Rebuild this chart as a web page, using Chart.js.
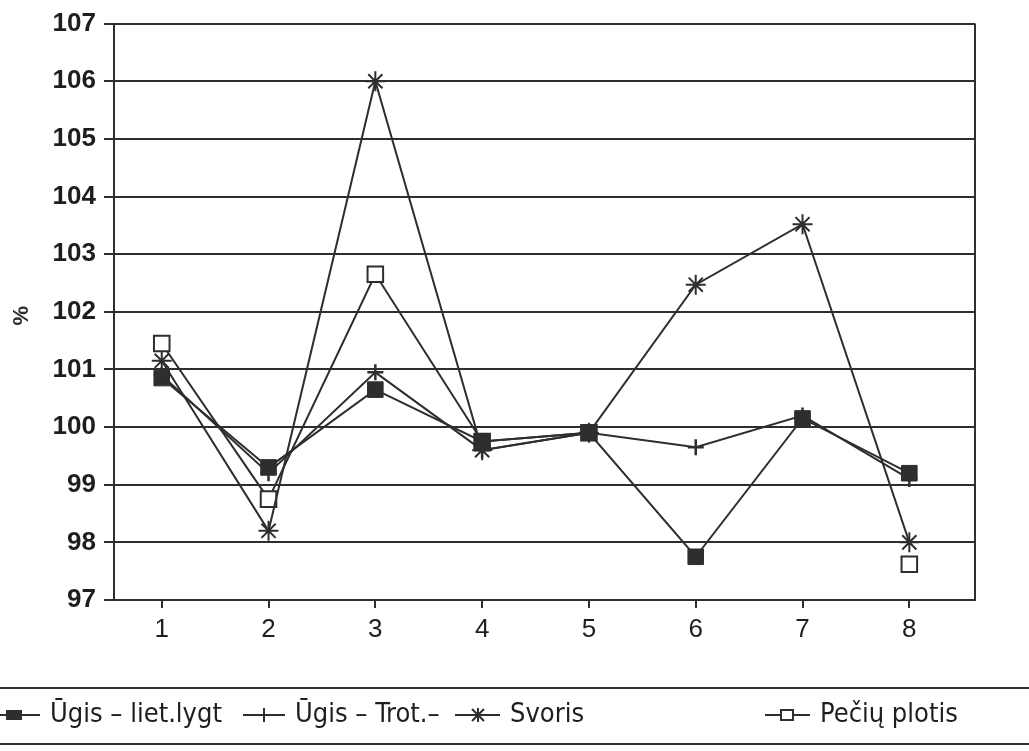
<!DOCTYPE html>
<html lang="lt">
<head>
<meta charset="utf-8">
<title>Ūgis, svoris ir pečių plotis</title>
<script src="https://cdn.jsdelivr.net/npm/chart.js@4"></script>
<style>
  html, body { margin: 0; padding: 0; background: #ffffff; }
  #wrap { width: 1029px; height: 751px; position: relative; }
  canvas { display: block; }
</style>
</head>
<body>
<div id="wrap"><canvas id="c" width="1029" height="751"></canvas></div>
<script>
// Categories on the horizontal axis
const categories = [1, 2, 3, 4, 5, 6, 7, 8];
// Vertical axis tick values (%)
const yTicks = [97, 98, 99, 100, 101, 102, 103, 104, 105, 106, 107];

// Series values, % (null = no measurement)
const ugisLietLygt = [100.85, 99.3, 100.65, 99.75, 99.9, 97.75, 100.15, 99.2];
const ugisTrot     = [100.9, 99.2, 100.95, 99.6, 99.9, 99.65, 100.2, 99.1];
const svoris       = [101.15, 98.2, 106.0, 99.6, 99.9, 102.47, 103.52, 98.0];
const peciuPlotis  = [101.45, 98.75, 102.65, 99.75, 99.9, null, null, 97.62];

const seriesNames = ['Ūgis – liet.lygt', 'Ūgis – Trot.–', 'Svoris', 'Pečių plotis'];

const INK = '#2e2e2e';
const toPoints = arr => categories.map((c, i) => ({ x: c, y: arr[i] }));

const baseLine = {
  borderColor: INK,
  borderWidth: 2,
  tension: 0,
  spanGaps: false,
  pointBorderColor: INK,
  pointHoverRadius: 0
};

// Frame on the right side, rotated "%" axis label and the legend strip below the plot
const decorations = {
  id: 'decorations',
  afterDraw(chart) {
    const ctx = chart.ctx;
    const a = chart.chartArea;
    ctx.save();
    ctx.strokeStyle = INK;
    ctx.lineWidth = 2;
    ctx.beginPath();
    ctx.moveTo(a.right, a.top);
    ctx.lineTo(a.right, a.bottom);
    ctx.stroke();

    // "%" axis label
    ctx.save();
    ctx.translate(22, chart.scales.y.getPixelForValue(102) + 4);
    ctx.rotate(-Math.PI / 2);
    ctx.fillStyle = INK;
    ctx.font = 'bold 22px "Liberation Sans", Arial, sans-serif';
    ctx.textAlign = 'center';
    ctx.textBaseline = 'middle';
    ctx.fillText('%', 0, 0);
    ctx.restore();

    // legend rules
    ctx.lineWidth = 2;
    ctx.beginPath();
    ctx.moveTo(0, 688); ctx.lineTo(1029, 688);
    ctx.moveTo(0, 744); ctx.lineTo(1029, 744);
    ctx.stroke();

    const ly = 715;
    const items = [
      { x1: 0,   x2: 40,  mx: 14,  style: 'filled', tx: 50 },
      { x1: 243, x2: 285, mx: 264, style: 'cross',  tx: 295 },
      { x1: 455, x2: 500, mx: 478, style: 'star',   tx: 510 },
      { x1: 765, x2: 810, mx: 787, style: 'open',   tx: 820 }
    ];
    ctx.font = '27px "DejaVu Sans Condensed", "Liberation Sans Narrow", "Liberation Sans", sans-serif';
    ctx.textBaseline = 'middle';
    ctx.textAlign = 'left';
    items.forEach((it, i) => {
      ctx.strokeStyle = INK;
      ctx.lineWidth = 2;
      ctx.beginPath();
      ctx.moveTo(it.x1, ly); ctx.lineTo(it.x2, ly);
      ctx.stroke();
      if (it.style === 'filled') {
        ctx.fillStyle = INK;
        ctx.fillRect(it.mx - 8, ly - 5, 16, 10);
      } else if (it.style === 'open') {
        ctx.fillStyle = '#ffffff';
        ctx.fillRect(it.mx - 6, ly - 5, 12, 10);
        ctx.strokeRect(it.mx - 6, ly - 5, 12, 10);
      } else if (it.style === 'cross') {
        ctx.beginPath();
        ctx.moveTo(it.mx, ly - 7); ctx.lineTo(it.mx, ly + 7);
        ctx.stroke();
      } else if (it.style === 'star') {
        ctx.beginPath();
        ctx.moveTo(it.mx, ly - 7); ctx.lineTo(it.mx, ly + 7);
        ctx.moveTo(it.mx - 6, ly - 6); ctx.lineTo(it.mx + 6, ly + 6);
        ctx.moveTo(it.mx - 6, ly + 6); ctx.lineTo(it.mx + 6, ly - 6);
        ctx.stroke();
      }
      ctx.fillStyle = '#1e1e1e';
      ctx.fillText(seriesNames[i], it.tx, ly);
    });
    ctx.restore();
  }
};

new Chart(document.getElementById('c'), {
  type: 'line',
  data: {
    datasets: [
      Object.assign({}, baseLine, {
        label: seriesNames[0],
        data: toPoints(ugisLietLygt),
        pointStyle: 'rect',
        pointRadius: 11,
        pointBackgroundColor: INK,
        pointBorderWidth: 1
      }),
      Object.assign({}, baseLine, {
        label: seriesNames[1],
        data: toPoints(ugisTrot),
        pointStyle: 'cross',
        pointRadius: 8,
        pointBorderWidth: 2.5
      }),
      Object.assign({}, baseLine, {
        label: seriesNames[2],
        data: toPoints(svoris),
        pointStyle: 'star',
        pointRadius: 10,
        pointBorderWidth: 2
      }),
      Object.assign({}, baseLine, {
        label: seriesNames[3],
        data: toPoints(peciuPlotis),
        pointStyle: 'rect',
        pointRadius: 11,
        pointBackgroundColor: '#ffffff',
        pointBorderWidth: 2
      })
    ]
  },
  options: {
    responsive: false,
    animation: false,
    events: [],
    layout: { padding: { left: 0, top: 21, right: 54, bottom: 101 } },
    plugins: {
      legend: { display: false },
      tooltip: { enabled: false }
    },
    scales: {
      x: {
        type: 'linear',
        min: 0.553,
        max: 8.615,
        afterFit: s => { s.height = 50; },
        afterBuildTicks: s => { s.ticks = categories.map(v => ({ value: v })); },
        border: { display: true, color: INK, width: 2 },
        grid: { drawOnChartArea: false, drawTicks: true, tickLength: 8, color: INK, lineWidth: 2 },
        ticks: {
          color: '#1e1e1e',
          padding: 6,
          font: { family: '"Liberation Sans", Arial, sans-serif', size: 26 },
          callback: v => String(v)
        }
      },
      y: {
        min: yTicks[0],
        max: yTicks[yTicks.length - 1],
        afterFit: s => { s.width = 114; },
        afterBuildTicks: s => { s.ticks = yTicks.map(v => ({ value: v })); },
        border: { display: true, color: INK, width: 2 },
        grid: { drawOnChartArea: true, drawTicks: true, tickLength: 10, color: INK, lineWidth: 2 },
        ticks: {
          color: '#1e1e1e',
          padding: 8,
          font: { family: '"Liberation Sans", Arial, sans-serif', size: 26, weight: 'bold' },
          callback: v => String(v)
        }
      }
    }
  },
  plugins: [decorations]
});
</script>
</body>
</html>
